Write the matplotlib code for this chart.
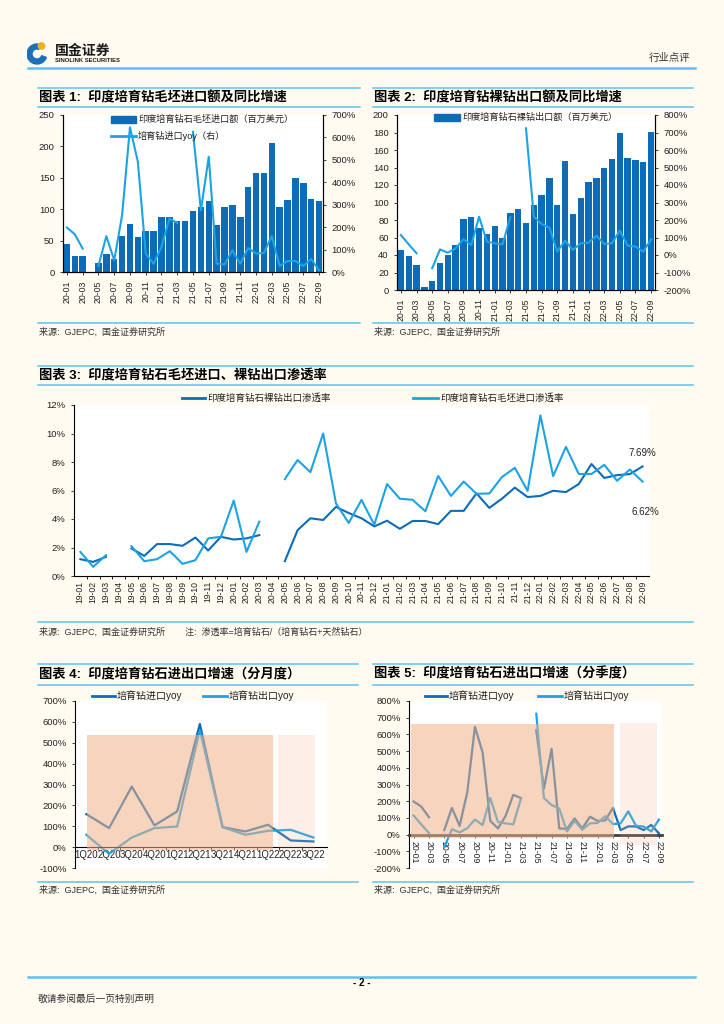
import matplotlib
matplotlib.use('Agg')
import matplotlib.pyplot as plt
import numpy as np
from matplotlib.lines import Line2D
from matplotlib.patches import Rectangle, Wedge, Circle

plt.rcParams['font.family'] = ['Liberation Sans', 'Noto Sans CJK SC']
plt.rcParams['axes.unicode_minus'] = False

nan = np.nan

# ---- data ----
months = [f'{y}-{m:02d}' for y in (20, 21, 22) for m in range(1, 13)][:33]
pen_months = [f'{y}-{m:02d}' for y in (19, 20, 21, 22) for m in range(1, 13)][:45]

# 毛坯进口额 (百万美元) / yoy %
imp_amt = [44, 26, 26, 0, 15, 28, 20, 58, 76, 55, 65, 66,
           88, 87, 81, 82, 97, 103, 113, 75, 104, 106, 88, 135,
           157, 158, 206, 103, 114, 150, 141, 116, 113]
imp_yoy = [198, 168, 104, nan, 27, 160, 52, 253, 645, 492, 82, 37,
           112, 238, 219, nan, 625, 275, 514, 37, 34, 97, 37, 107,
           82, 85, 160, 27, 49, 49, 27, 58, 7]

# 裸钻出口额 (百万美元) / yoy %
exp_amt = [45.7, 38.5, 29, 3, 10, 31, 40, 52, 81, 83, 71, 64,
           73.5, 60, 88, 92.6, 77, 97.5, 109, 128, 97.5, 148, 87, 105,
           124, 128, 139, 150, 179, 151, 148.6, 146, 180.6]
exp_yoy = [114, 61, 10, nan, -76, 32, 13, 38, 90, 57, 219, 76,
           67, 61, 215, nan, 724, 219, 177, 156, 19, 82, 29, 67,
           70, 110, 63, 67, 139, 53, 48, 19, 90]

# 渗透率 %
polished_pen = [1.18, 0.99, 1.34, nan, 1.93, 1.41, 2.24, 2.24, 2.12, 2.70, 1.79, 2.75,
                2.56, 2.64, 2.87, nan, 1.04, 3.22, 4.05, 3.93, 4.85, 4.42, 4.05, 3.48,
                3.88, 3.31, 3.86, 3.86, 3.64, 4.57, 4.57, 5.80, 4.78, 5.43, 6.20, 5.54,
                5.62, 5.98, 5.89, 6.45, 7.86, 6.88, 7.08, 7.15, 7.69]
rough_pen = [1.69, 0.64, 1.46, nan, 2.09, 1.04, 1.18, 1.74, 0.85, 1.11, 2.64, 2.75,
             5.29, 1.69, 3.81, nan, 6.80, 8.14, 7.29, 10.0, 5.10, 3.72, 5.34, 3.60,
             6.45, 5.42, 5.35, 4.54, 7.02, 5.62, 6.63, 5.77, 5.79, 6.95, 7.59, 5.97,
             11.27, 7.01, 9.06, 7.16, 7.16, 7.80, 6.68, 7.47, 6.62]

# 分季度
q_labels = ['1Q20', '2Q20', '3Q20', '4Q20', '1Q21', '2Q21', '3Q21', '4Q21', '1Q22', '2Q22', '3Q22']
q_imp = [158, 91, 290, 104, 171, 590, 96, 75, 107, 32, 27]
q_exp = [59, -32, 46, 91, 99, 561, 96, 59, 78, 83, 46]

# ---- style ----
W, H = 724, 1024
bg = '#FFFBF0'
dark = '#0D6CB8'
light = '#1CA3E3'
sep = '#5CC2EE'
peach = '#EFB189'
txt = '#222222'
tfs = 6.8


def fx(x):
    return x / W


def fy(y):
    return 1 - y / H


def hline(x0, x1, y, lw=1.1, color=sep):
    fig.add_artist(Line2D([fx(x0), fx(x1)], [fy(y), fy(y)], color=color, lw=lw))


def leg_line(x0, x1, y, color, text, fs=6.8):
    fig.add_artist(Line2D([fx(x0), fx(x1)], [fy(y), fy(y)], color=color, lw=2))
    fig.text(fx(x1 + 2), fy(y), text, fontsize=fs, va='center', ha='left', color=txt)


def leg_patch(x0, x1, y, color, text, fs=6.6):
    fig.add_artist(Rectangle((fx(x0), fy(y + 3.5)), fx(x1) - fx(x0), 7 / H,
                             color=color, transform=fig.transFigure))
    fig.text(fx(x1 + 2), fy(y), text, fontsize=fs, va='center', ha='left', color=txt)


def new_ax(left, top, right, bottom):
    return fig.add_axes([fx(left), fy(bottom), (right - left) / W, (bottom - top) / H])


fig = plt.figure(figsize=(W / 100, H / 100), dpi=100, facecolor=bg)

# ---- header ----
axl = new_ax(27, 40, 49, 66)
axl.set_xlim(0, 22)
axl.set_ylim(0, 26)
axl.axis('off')
axl.add_patch(Wedge((10, 12), 10, 70, 340, width=5, color='#1E6FB8'))
axl.add_patch(Circle((14.5, 20), 3.2, color='#F2B01E'))
fig.text(fx(55), fy(51), '国金证券', fontsize=10, fontweight='bold', va='center', color='#1a1a1a')
fig.text(fx(55), fy(60), 'SINOLINK SECURITIES', fontsize=4.2, fontweight='bold', va='center', color='#1a1a1a')
fig.text(fx(690), fy(58), '行业点评', fontsize=7.5, va='center', ha='right', color='#333333')
hline(28, 695, 68, lw=1.8)

# ---- titles / separators ----
for x0, x1, t in [(38, 360, '图表 1:  印度培育钻毛坯进口额及同比增速'),
                  (373, 693, '图表 2:  印度培育钻裸钻出口额及同比增速')]:
    hline(x0, x1, 88)
    hline(x0, x1, 107)
    hline(x0, x1, 323)
    fig.text(fx(x0 + 1), fy(97.5), t, fontsize=9.5, fontweight='bold', va='center')
    fig.text(fx(x0 + 1), fy(332), '来源:  GJEPC,  国金证券研究所', fontsize=6.5, va='center', color='#333333')

hline(38, 693, 366)
hline(38, 693, 385)
hline(38, 693, 622)
fig.text(fx(39), fy(375.5), '图表 3:  印度培育钻石毛坯进口、裸钻出口渗透率', fontsize=9.5, fontweight='bold', va='center')
fig.text(fx(39), fy(632), '来源:  GJEPC,  国金证券研究所', fontsize=6.5, va='center', color='#333333')
fig.text(fx(185), fy(632), '注:  渗透率=培育钻石/（培育钻石+天然钻石）', fontsize=6.5, va='center', color='#333333')

for x0, x1, t in [(38, 358, '图表 4:  印度培育钻石进出口增速（分月度）'),
                  (373, 693, '图表 5:  印度培育钻石进出口增速（分季度）')]:
    hline(x0, x1, 664)
    hline(x0, x1, 685)
    hline(x0, x1, 882)
    fig.text(fx(x0 + 1), fy(674), t, fontsize=9.5, fontweight='bold', va='center')
    fig.text(fx(x0 + 1), fy(890), '来源:  GJEPC,  国金证券研究所', fontsize=6.5, va='center', color='#333333')

# footer
hline(28, 695, 977, lw=1.8)
fig.text(0.5, fy(983), '- 2 -', fontsize=7, fontweight='bold', ha='center', va='center')
fig.text(fx(38), fy(999), '敬请参阅最后一页特别声明', fontsize=7, va='center', color='#333333')


def style_axis(ax):
    ax.set_facecolor('white')
    ax.tick_params(labelsize=tfs, colors=txt, length=2.5, width=0.6)
    for s in ax.spines.values():
        s.set_linewidth(0.8)


# ---- chart 1 ----
x = np.arange(33)
ax1 = new_ax(63, 115, 323, 272)
style_axis(ax1)
ax1.bar(x, imp_amt, width=0.82, color=dark, zorder=2)
ax1.set_ylim(0, 250)
ax1.set_yticks(range(0, 251, 50))
ax1.set_xlim(-0.5, 32.5)
ax1.set_xticks(x[::2], months[::2], rotation=90, fontsize=6.3)
ax1.spines['top'].set_visible(False)
ax1r = ax1.twinx()
ax1r.plot(x, imp_yoy, color=light, lw=1.5)
ax1r.set_ylim(0, 700)
ax1r.set_yticks(range(0, 701, 100), [f'{v}%' for v in range(0, 701, 100)])
ax1r.tick_params(labelsize=tfs, colors=txt, length=2.5, width=0.6)
ax1r.spines['top'].set_visible(False)
leg_patch(111, 136, 119, dark, '印度培育钻石毛坯进口额（百万美元）')
leg_line(111, 136, 136, light, '培育钻进口yoy（右）', fs=6.6)

# ---- chart 2 ----
ax2 = new_ax(397, 115, 655, 290)
style_axis(ax2)
ax2.bar(x, exp_amt, width=0.82, color=dark, zorder=2)
ax2.set_ylim(0, 200)
ax2.set_yticks(range(0, 201, 20))
ax2.set_xlim(-0.5, 32.5)
ax2.set_xticks(x[::2], months[::2], rotation=90, fontsize=6.3)
ax2.spines['top'].set_visible(False)
ax2r = ax2.twinx()
ax2r.plot(x, exp_yoy, color=light, lw=1.5)
ax2r.set_ylim(-200, 800)
ax2r.set_yticks(range(-200, 801, 100), [f'{v}%' for v in range(-200, 801, 100)])
ax2r.tick_params(labelsize=tfs, colors=txt, length=2.5, width=0.6)
ax2r.spines['top'].set_visible(False)
leg_patch(434, 460, 117, dark, '印度培育钻石裸钻出口额（百万美元）')

# ---- chart 3 ----
xp = np.arange(45)
ax3 = new_ax(74, 405, 649, 576)
style_axis(ax3)
ax3.plot(xp, polished_pen, color=dark, lw=1.5, zorder=3)
ax3.plot(xp, rough_pen, color=light, lw=1.5, zorder=3)
ax3.set_ylim(0, 12)
ax3.set_yticks(range(0, 13, 2), [f'{v}%' for v in range(0, 13, 2)])
ax3.set_xlim(-0.5, 44.5)
ax3.set_xticks(xp, pen_months, rotation=90, fontsize=6.2)
ax3.set_xticks(xp[:-1] + 0.5, minor=True)
ax3.tick_params(axis='x', which='major', length=0)
ax3.tick_params(axis='x', which='minor', length=2.5, width=0.6)
ax3.spines['top'].set_visible(False)
ax3.spines['right'].set_visible(False)
ax3.text(44, 8.65, f'{polished_pen[-1]:.2f}%', fontsize=7, ha='center', va='center', color=txt)
ax3.text(44.2, 4.49, f'{rough_pen[-1]:.2f}%', fontsize=7, ha='center', va='center', color=txt)
leg_line(182, 205, 398, dark, '印度培育钻石裸钻出口渗透率')
leg_line(413, 438, 398, light, '印度培育钻石毛坯进口渗透率')

# ---- chart 4 ----
xq = np.arange(11)
ax4 = new_ax(75, 701, 327, 868)
ax4.spines['bottom'].set_position(('data', 0))
style_axis(ax4)
ax4.plot(xq, q_imp, color=dark, lw=1.6, zorder=2)
ax4.plot(xq, q_exp, color=light, lw=1.6, zorder=2)
ax4.add_patch(Rectangle((0.05, -13), 8.15, 548, facecolor=peach, alpha=0.55, lw=0, zorder=3))
ax4.add_patch(Rectangle((8.45, -13), 1.6, 548, facecolor=peach, alpha=0.2, lw=0, zorder=3))
ax4.set_ylim(-100, 700)
ax4.set_yticks(range(-100, 701, 100), [f'{v}%' for v in range(-100, 701, 100)])
ax4.set_xlim(-0.5, 10.6)
ax4.set_xticks(xq, q_labels, fontsize=6.9)
ax4.set_xticks(xq[:-1] + 0.5, minor=True)
ax4.tick_params(axis='x', which='major', length=0, pad=2)
ax4.tick_params(axis='x', which='minor', length=2.5, width=0.6)
ax4.spines['top'].set_visible(False)
ax4.spines['right'].set_visible(False)
leg_line(92, 115, 696, dark, '培育钻进口yoy', fs=7.2)
leg_line(203, 227, 696, light, '培育钻出口yoy', fs=7.2)

# ---- chart 5 ----
ax5 = new_ax(409, 701, 662, 868)
ax5.spines['bottom'].set_position(('data', 0))
style_axis(ax5)
ax5.plot(x, imp_yoy, color=dark, lw=1.6, zorder=2)
ax5.plot(x, exp_yoy, color=light, lw=1.6, zorder=2)
ax5.add_patch(Rectangle((-0.4, -20), 26.5, 680, facecolor=peach, alpha=0.55, lw=0, zorder=3))
ax5.add_patch(Rectangle((26.9, -64), 4.8, 734, facecolor=peach, alpha=0.2, lw=0, zorder=3))
ax5.set_ylim(-200, 800)
ax5.set_yticks(range(-200, 801, 100), [f'{v}%' for v in range(-200, 801, 100)])
ax5.set_xlim(-0.6, 32.4)
ax5.set_xticks(x[::2], months[::2], rotation=-90, fontsize=6.3)
ax5.tick_params(axis='x', length=2.5, pad=2)
ax5.spines['bottom'].set_linewidth(2)
ax5.spines['bottom'].set_color('#404040')
ax5.spines['top'].set_visible(False)
ax5.spines['right'].set_visible(False)
leg_line(425, 447, 696, dark, '培育钻进口yoy', fs=7.2)
leg_line(538, 562, 696, light, '培育钻出口yoy', fs=7.2)

fig.savefig('out.png', dpi=100, facecolor=fig.get_facecolor())
